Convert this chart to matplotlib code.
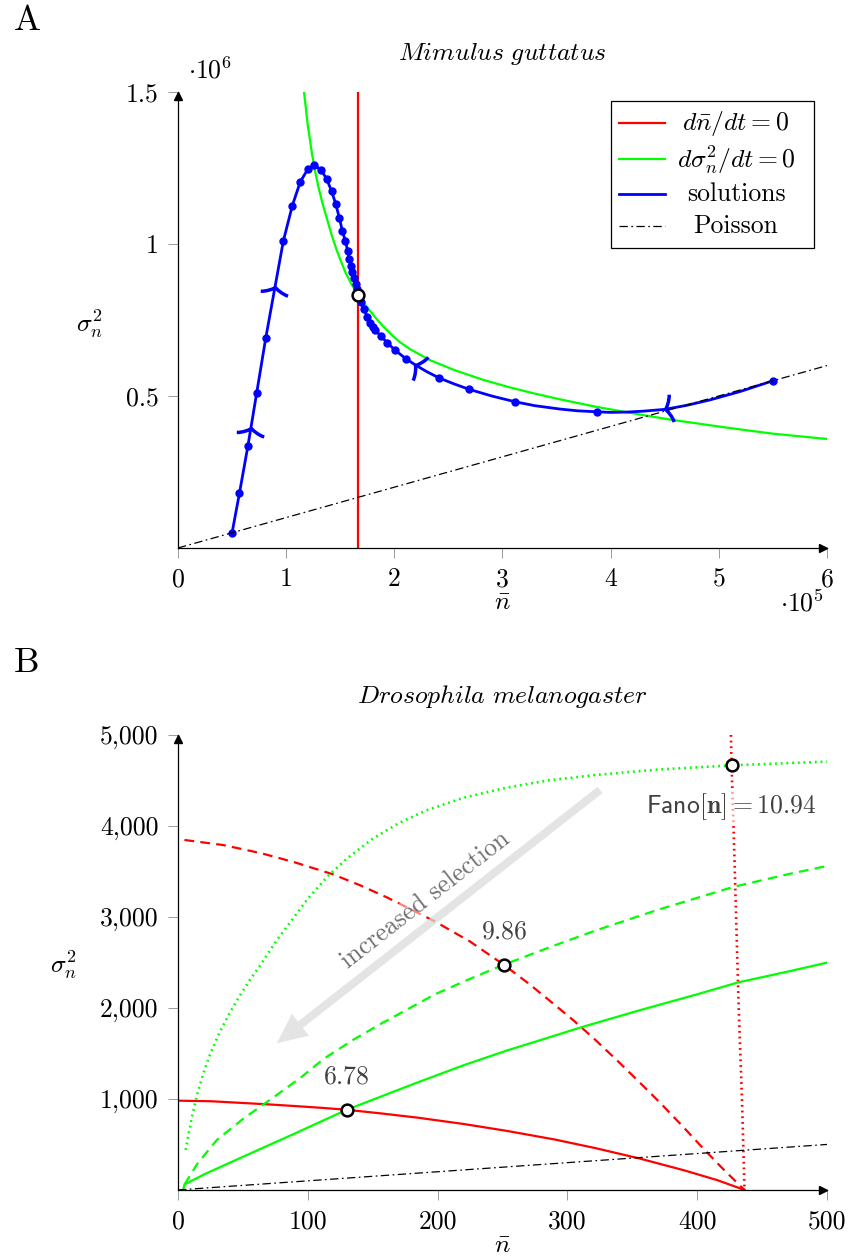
# Nullclines et trajectoires (moyenne / variance) pour deux espèces
import numpy as np
import matplotlib.pyplot as plt
from matplotlib.path import Path
from matplotlib.markers import MarkerStyle
from matplotlib.transforms import Affine2D, ScaledTranslation
from matplotlib.lines import Line2D
from matplotlib.patches import Rectangle

plt.rcParams['font.family'] = 'serif'
plt.rcParams['font.serif'] = ['cmr10']
plt.rcParams['mathtext.fontset'] = 'cm'
plt.rcParams['axes.formatter.use_mathtext'] = True
plt.rcParams['lines.scale_dashes'] = False
plt.rcParams['font.size'] = 18.5

ROUGE = '#ff0000'
VERT = '#00ff00'
BLEU = '#0000ff'

# ---------------- A : Mimulus guttatus (n en 1e5, variance en 1e6) ----------------
mim_n_eq = 1.667
mim_var_eq = 0.833

mim_vert_n = [1.165, 1.20, 1.242, 1.27, 1.30, 1.335, 1.374, 1.42, 1.467, 1.51, 1.55, 1.606,
              1.667, 1.72, 1.775, 1.84, 1.90, 1.97, 2.052, 2.15, 2.33, 2.55, 2.822, 3.05,
              3.285, 3.531, 3.871, 4.302, 4.556, 5.072, 5.5, 6.0]
mim_vert_var = [1.50, 1.39, 1.29, 1.235, 1.185, 1.135, 1.087, 1.03, 0.98, 0.94, 0.905, 0.866,
                0.833, 0.805, 0.78, 0.752, 0.728, 0.703, 0.677, 0.653, 0.618, 0.586, 0.553,
                0.53, 0.509, 0.489, 0.464, 0.437, 0.422, 0.396, 0.376, 0.3586]

# trajectoire partant de la gauche (tous les points sont des pas de temps)
mim_gauche_n = [0.50, 0.568, 0.646, 0.728, 0.811, 0.974, 1.057, 1.131, 1.202, 1.26, 1.322,
                1.374, 1.42, 1.458, 1.491, 1.519, 1.547, 1.569, 1.584, 1.599, 1.612, 1.627,
                1.643, 1.658, 1.667]
mim_gauche_var = [0.05, 0.18, 0.335, 0.511, 0.69, 1.01, 1.126, 1.205, 1.247, 1.259, 1.244,
                  1.214, 1.174, 1.132, 1.087, 1.044, 1.01, 0.978, 0.951, 0.928, 0.909, 0.889,
                  0.868, 0.852, 0.833]

# trajectoire partant de la droite
mim_droite_n = [5.50, 5.20, 4.918, 4.70, 4.502, 4.30, 4.148, 4.00, 3.871, 3.70, 3.531, 3.30,
                3.115, 2.90, 2.69, 2.55, 2.416, 2.30, 2.195, 2.105, 2.006, 1.935, 1.877,
                1.821, 1.80, 1.775, 1.75, 1.72, 1.69, 1.667]
mim_droite_var = [0.550, 0.515, 0.487, 0.469, 0.456, 0.450, 0.447, 0.446, 0.448, 0.451,
                  0.457, 0.468, 0.481, 0.500, 0.522, 0.540, 0.559, 0.580, 0.602, 0.623,
                  0.651, 0.675, 0.697, 0.717, 0.727, 0.739, 0.760, 0.785, 0.810, 0.833]
mim_droite_pts_n = [5.50, 3.871, 3.115, 2.69, 2.416, 2.105, 2.006, 1.935, 1.877, 1.821,
                    1.80, 1.775, 1.75, 1.72, 1.69]
mim_droite_pts_var = [0.550, 0.448, 0.481, 0.522, 0.559, 0.623, 0.651, 0.675, 0.697, 0.717,
                      0.727, 0.739, 0.760, 0.785, 0.810]

# positions des pointes de flèche sur les trajectoires
mim_fleches_gauche = [(0.675, 0.395), (0.897, 0.859)]
mim_fleches_droite = [(2.195, 0.602), (4.502, 0.456)]

mim_poisson_n = [0, 6]
mim_poisson_var = [0, 0.6]

# ---------------- B : Drosophila melanogaster ----------------
dro_rouge_plein_n = [0, 25, 47, 70, 90, 110, 130, 157, 184.3, 220, 252.9, 290, 321.5, 355.8,
                     390.1, 415, 436.5]
dro_rouge_plein_var = [981, 975, 958, 940, 922, 903, 881, 840, 795, 725, 650, 555, 460, 345,
                       215, 110, 0]
dro_rouge_tiret_n = [5, 35, 64.2, 90, 119.1, 140, 160.2, 180, 198, 225, 251, 270, 287.2, 305,
                     321.5, 340, 355.8, 372, 390.1, 405, 421, 436.5]
dro_rouge_tiret_var = [3846, 3790, 3700, 3600, 3470, 3350, 3220, 3080, 2950, 2730, 2475, 2270,
                       2070, 1860, 1650, 1400, 1180, 950, 680, 450, 215, 0]
dro_rouge_point_n = [426, 426.5, 428, 430, 432, 434.5, 436.5]
dro_rouge_point_var = [5000, 4666, 4000, 3000, 2000, 1000, 0]

dro_vert_plein_n = [4, 5, 20, 47, 90, 130, 157, 184.3, 220, 252.9, 280, 311.2, 355.8, 400,
                    431.3, 470, 500]
dro_vert_plein_var = [0, 60, 170, 345, 620, 881, 1030, 1180, 1370, 1530, 1650, 1790, 1975,
                      2150, 2280, 2400, 2498]
dro_vert_tiret_n = [5, 15, 29.9, 50, 74.4, 95, 112.2, 135, 156.8, 180, 198, 225, 251, 285,
                    321.5, 370, 427.8, 470, 500]
dro_vert_tiret_var = [60, 290, 549, 780, 1026, 1240, 1440, 1650, 1830, 2010, 2150, 2320, 2475,
                      2660, 2850, 3080, 3330, 3470, 3560]
dro_vert_point_n = [5.9, 8, 11, 15, 19.6, 25, 32, 40, 47, 55, 62.5, 76.2, 84.8, 100, 115.6,
                    130, 150, 170, 191.1, 220, 252.9, 285, 321.5, 370, 426.5, 500]
dro_vert_point_var = [440, 600, 820, 1060, 1282, 1500, 1730, 1950, 2120, 2300, 2450, 2747,
                      2910, 3200, 3450, 3640, 3860, 4030, 4170, 4310, 4420, 4500, 4560, 4620,
                      4666, 4707]

dro_poisson_n = [0, 500]
dro_poisson_var = [0, 500]

# équilibres : facteur de Fano et moyenne
dro_fano = [6.78, 9.86, 10.94]
dro_n_eq = [130, 251, 426.5]
dro_etiquettes = [r'$6.78$', r'$9.86$', r'$\mathsf{Fano}[\mathbf{n}] = 10.94$']
dro_decalage = [24, 24, -29.5]

dro_fleche_debut = (325.2, 4396)
dro_fleche_fin = (76.1, 1612)
dro_texte_fleche = (190.4, 3187)

DASH = (0, (7, 4.5))
DOT = (0, (1.3, 2.8))
DASHDOT = (0, (6, 2.5, 1.2, 2.5))


def habiller_axes(ax):
    for s in ['top', 'right']:
        ax.spines[s].set_visible(False)
    for s in ['left', 'bottom']:
        ax.spines[s].set_linewidth(0.9)
    fig = ax.figure
    decal_x = ScaledTranslation(-3 / 72, 0, fig.dpi_scale_trans)
    decal_y = ScaledTranslation(0, -3 / 72, fig.dpi_scale_trans)
    ax.plot(1, 0, '>k', ms=6, transform=ax.transAxes + decal_x, clip_on=False, zorder=8)
    ax.plot(0, 1, '^k', ms=6, transform=ax.transAxes + decal_y, clip_on=False, zorder=8)
    ax.tick_params(direction='out', length=7, width=0.7, color='#9a9a9a', labelsize=18.5)
    ax.tick_params(axis='x', pad=7)
    ax.tick_params(axis='y', pad=7)


# pointe de flèche ouverte et incurvée (style "to"), orientée selon +x
pointe_path = Path([(-0.45, 1.0), (-0.42, 0.625), (-0.09, 0.0625), (0, 0),
                    (-0.09, -0.0625), (-0.42, -0.625), (-0.45, -1.0)],
                   [Path.MOVETO, Path.CURVE4, Path.CURVE4, Path.CURVE4,
                    Path.CURVE4, Path.CURVE4, Path.CURVE4])


def pointe(ax, x, y, traj_n, traj_var):
    pts = ax.transData.transform(np.column_stack([traj_n, traj_var]))
    p = ax.transData.transform((x, y))
    milieux = (pts[:-1] + pts[1:]) / 2
    i = np.argmin(np.hypot(milieux[:, 0] - p[0], milieux[:, 1] - p[1]))
    d = pts[i + 1] - pts[i]
    angle = np.degrees(np.arctan2(d[1], d[0]))
    m = MarkerStyle(pointe_path, fillstyle='none', transform=Affine2D().rotate_deg(angle))
    ax.plot([x], [y], linestyle='none', marker=m, ms=20, mew=2.5, mec=BLEU, zorder=3.5)


fig = plt.figure(figsize=(8.48, 12.6), dpi=100)

# ---------------- panneau A ----------------
ax = fig.add_axes([0.2099, 0.5651, 0.7653, 0.3619])
ax.set_xlim(0, 6)
ax.set_ylim(0, 1.5)
habiller_axes(ax)

ax.plot([mim_n_eq, mim_n_eq], [0, 1.5], color=ROUGE, lw=1.6, zorder=2)
ax.plot(mim_vert_n, mim_vert_var, color=VERT, lw=1.6, zorder=2.1)
ax.plot(mim_gauche_n, mim_gauche_var, color=BLEU, lw=2.0, zorder=3)
ax.plot(mim_gauche_n[:-1], mim_gauche_var[:-1], 'o', color=BLEU, ms=5, zorder=3)
ax.plot(mim_droite_n, mim_droite_var, color=BLEU, lw=2.0, zorder=3)
ax.plot(mim_droite_pts_n, mim_droite_pts_var, 'o', color=BLEU, ms=5, zorder=3)
for (x, y) in mim_fleches_gauche:
    pointe(ax, x, y, mim_gauche_n, mim_gauche_var)
for (x, y) in mim_fleches_droite:
    pointe(ax, x, y, mim_droite_n, mim_droite_var)
ax.plot(mim_poisson_n, mim_poisson_var, color='black', lw=0.9, linestyle=DASHDOT, zorder=4)
ax.plot([mim_n_eq], [mim_var_eq], 'o', ms=8.5, mfc='white', mec='black', mew=1.8, zorder=6)

ax.set_xticks(range(7), [str(i) for i in range(7)])
ax.set_yticks([0.5, 1, 1.5], ['0.5', '1', '1.5'])
ax.set_xlabel(r'$\bar{n}$', fontsize=18.5, va='center')
ax.xaxis.set_label_coords(0.5, -0.1206)
ax.set_ylabel(r'$\sigma_n^2$', fontsize=18.5, rotation=0, ha='center', va='center')
ax.yaxis.set_label_coords(-0.137, 0.493)
ax.text(0.0154, 1.048, r'$\cdot 10^{6}$', transform=ax.transAxes, ha='left', va='center')
ax.text(0.995, -0.1206, r'$\cdot 10^{5}$', transform=ax.transAxes, ha='right', va='center')
ax.text(0.5, 1.083, r'$\mathit{Mimulus\ guttatus}$', transform=ax.transAxes,
        ha='center', va='center')

# légende
ax.add_patch(Rectangle((0.667, 0.658), 0.313, 0.322, transform=ax.transAxes,
                       fc='white', ec='black', lw=0.9, zorder=7))
leg_textes = [r'$d\bar{n}/dt = 0$', r'$d\sigma_n^2/dt = 0$', 'solutions', 'Poisson']
leg_styles = [dict(color=ROUGE, lw=1.6), dict(color=VERT, lw=1.6), dict(color=BLEU, lw=2.0),
              dict(color='black', lw=0.9, linestyle=DASHDOT)]
leg_y = [0.9314, 0.8524, 0.7763, 0.7068]
for txt, st, y in zip(leg_textes, leg_styles, leg_y):
    ax.add_line(Line2D([0.6795, 0.7504], [y, y], transform=ax.transAxes, zorder=8, **st))
    ax.text(0.8598, y, txt, transform=ax.transAxes, ha='center', va='center', zorder=8)

# ---------------- panneau B ----------------
bx = fig.add_axes([0.2099, 0.0556, 0.7653, 0.3611])
bx.set_xlim(0, 500)
bx.set_ylim(0, 5000)
habiller_axes(bx)

bx.plot(dro_rouge_plein_n, dro_rouge_plein_var, color=ROUGE, lw=1.6, zorder=2)
bx.plot(dro_rouge_tiret_n, dro_rouge_tiret_var, color=ROUGE, lw=1.6, linestyle=DASH, zorder=2)
bx.plot(dro_rouge_point_n, dro_rouge_point_var, color=ROUGE, lw=1.9, linestyle=DOT, zorder=2)
bx.plot(dro_vert_plein_n, dro_vert_plein_var, color=VERT, lw=1.6, zorder=2.1)
bx.plot(dro_vert_tiret_n, dro_vert_tiret_var, color=VERT, lw=1.6, linestyle=DASH, zorder=2.1)
bx.plot(dro_vert_point_n, dro_vert_point_var, color=VERT, lw=1.9, linestyle=DOT, zorder=2.1)
bx.plot(dro_poisson_n, dro_poisson_var, color='black', lw=0.9, linestyle=DASHDOT, zorder=2.2)

bx.annotate('', xy=dro_fleche_fin, xytext=dro_fleche_debut,
            arrowprops=dict(arrowstyle='simple,head_length=1.08,head_width=1.0,tail_width=0.29',
                            mutation_scale=20, color='#dcdcdc', alpha=0.75, lw=0,
                            shrinkA=0, shrinkB=0), zorder=3)
bx.text(dro_texte_fleche[0], dro_texte_fleche[1], 'increased selection', color='#707070',
        rotation=38, rotation_mode='anchor', ha='center', va='center', zorder=4,
        bbox=dict(boxstyle='square,pad=0.05', fc='white', ec='none', alpha=0.5))

for f, nb, lab, dy in zip(dro_fano, dro_n_eq, dro_etiquettes, dro_decalage):
    var = f * nb
    bx.annotate(lab, xy=(nb, var), xytext=(0, dy), textcoords='offset points',
                ha='center', va='center', color='#404040', zorder=4,
                bbox=dict(boxstyle='square,pad=0.1', fc='white', ec='none', alpha=0.6))
    bx.plot([nb], [var], 'o', ms=8.5, mfc='white', mec='black', mew=1.8, zorder=6)

bx.set_xticks(range(0, 501, 100), [str(v) for v in range(0, 501, 100)])
bx.set_yticks(range(1000, 5001, 1000), ['1,000', '2,000', '3,000', '4,000', '5,000'])
bx.set_xlabel(r'$\bar{n}$', fontsize=18.5, va='center')
bx.xaxis.set_label_coords(0.5, -0.123)
bx.set_ylabel(r'$\sigma_n^2$', fontsize=18.5, rotation=0, ha='center', va='center')
bx.yaxis.set_label_coords(-0.177, 0.495)
bx.text(0.5, 1.0835, r'$\mathit{Drosophila\ melanogaster}$', transform=bx.transAxes,
        ha='center', va='center')

fig.text(0.0318, 0.9833, 'A', fontsize=26, ha='center', va='center')
fig.text(0.0318, 0.4738, 'B', fontsize=26, ha='center', va='center')

fig.savefig('out.png', dpi=100)
